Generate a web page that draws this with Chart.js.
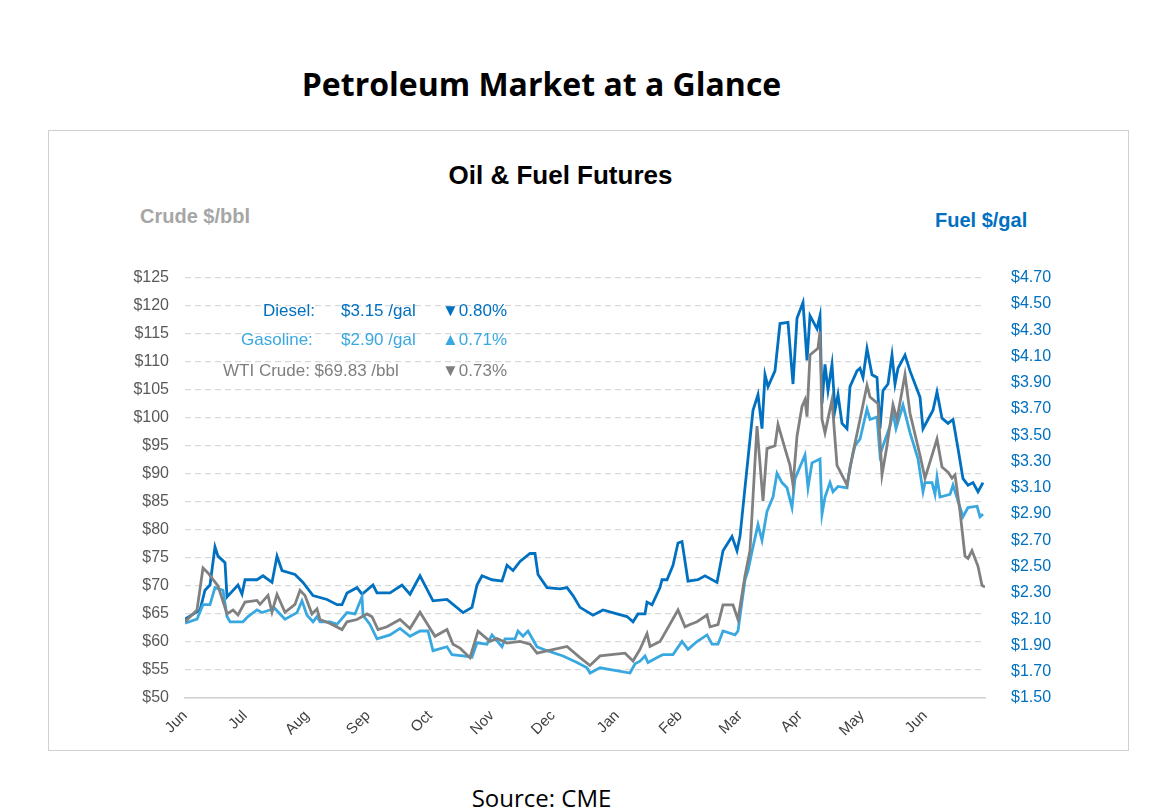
<!DOCTYPE html>
<html>
<head>
<meta charset="utf-8">
<script src="https://cdn.jsdelivr.net/npm/chart.js@4"></script>
<style>
  body { margin: 0; background: #fff; width: 1151px; height: 809px; position: relative; font-family: Arial, "Liberation Sans", sans-serif; }
  .abs { position: absolute; white-space: nowrap; }
  #title { left: 0; width: 1083px; top: 62px; text-align: center; font: bold 32px "Open Sans", Arial, sans-serif; color: #000; }
  #box { left: 48px; top: 130px; width: 1079px; height: 619px; border: 1px solid #d0d0d0; }
  #sub { left: 48px; width: 1025px; top: 160px; text-align: center; font: bold 26px Arial, sans-serif; }
  #crudeAxis { left: 140px; top: 205px; font: bold 20px Arial, sans-serif; color: #a6a6a6; }
  #fuelAxis { left: 935px; top: 209px; font: bold 20px Arial, sans-serif; color: #0070c0; }
  .lg { font: 17px Arial, sans-serif; }
  #source { left: 0; width: 1083px; top: 781px; text-align: center; font: 24px "Open Sans", Arial, sans-serif; color: #000; }
  #wrap { position: absolute; left: 50px; top: 250px; width: 1076px; height: 498px; }
</style>
</head>
<body>
<div class="abs" id="title">Petroleum Market at a Glance</div>
<div class="abs" id="box"></div>
<div class="abs" id="sub">Oil &amp; Fuel Futures</div>
<div class="abs" id="crudeAxis">Crude $/bbl</div>
<div class="abs" id="fuelAxis">Fuel $/gal</div>
<div id="wrap"><canvas id="chartCanvas"></canvas></div>
<div class="abs lg" style="left:263px;top:301px;color:#0070c0">Diesel:</div>
<div class="abs lg" style="left:341px;top:301px;color:#0070c0">$3.15 /gal</div>
<div class="abs lg" style="left:442px;top:301px;color:#0070c0">▼0.80%</div>
<div class="abs lg" style="left:241px;top:330px;color:#3aa8e0">Gasoline:</div>
<div class="abs lg" style="left:341px;top:330px;color:#3aa8e0">$2.90 /gal</div>
<div class="abs lg" style="left:442px;top:330px;color:#3aa8e0">▲0.71%</div>
<div class="abs lg" style="left:223px;top:361px;color:#7f7f7f">WTI Crude: $69.83 /bbl</div>
<div class="abs lg" style="left:442px;top:361px;color:#7f7f7f">▼0.73%</div>
<div class="abs" id="source">Source: CME</div>
<script>
// time position along the axis (month starts are at monthT)
const monthLabels = ['Jun', 'Jul', 'Aug', 'Sep', 'Oct', 'Nov', 'Dec', 'Jan', 'Feb', 'Mar', 'Apr', 'May', 'Jun'];
const monthT = [0, 60, 122, 183, 245, 307, 368, 432, 495, 555, 615, 677, 740];

const dieselT = [0,15,20,25,30,33,40,42,53,57,60,72,78,87,92,97,110,118,128,142,152,157,162,172,177,188,192,205,217,225,235,248,262,278,287,292,297,307,317,322,328,335,345,350,353,362,375,382,388,395,408,418,432,442,448,453,460,462,467,475,
  477,482,488,493,497,503,513,520,532,538,547,552,555,562,568,573,577,580,583,590,595,603,608,612,618,622,625,632,635,637,640,643,647,650,653,657,662,665,672,675,678,682,687,692,695,698,703,707,710,713,720,725,735,738,743,748,752,757,763,768,773,778,783,788,793,798];
const dieselGal = [2.10,2.17,2.32,2.36,2.65,2.58,2.53,2.27,2.36,2.29,2.40,2.40,2.43,2.38,2.58,2.47,2.44,2.38,2.28,2.25,2.21,2.21,2.30,2.34,2.29,2.36,2.30,2.30,2.36,2.29,2.43,2.24,2.25,2.15,2.19,2.36,2.43,2.40,2.39,2.51,2.47,2.54,2.60,2.60,2.44,2.34,2.33,2.34,2.28,2.19,2.13,2.17,2.14,2.12,2.08,2.14,2.14,2.23,2.21,2.34,
  2.40,2.40,2.51,2.68,2.69,2.39,2.40,2.43,2.38,2.62,2.73,2.62,2.73,3.25,3.69,3.81,3.55,3.96,3.87,3.99,4.35,4.36,3.89,4.39,4.51,4.07,4.41,4.31,4.41,3.74,4.04,3.84,4.04,3.69,3.81,3.59,3.55,3.87,3.99,4.01,3.94,4.16,3.96,3.94,3.55,3.84,3.89,4.11,3.89,4.01,4.11,3.99,3.79,3.55,3.62,3.69,3.83,3.63,3.59,3.62,3.40,3.17,3.12,3.14,3.07,3.14];

const gasT = [0,12,18,25,30,38,42,45,58,63,72,77,85,90,100,112,117,122,128,132,135,145,152,162,170,177,178,185,192,205,215,225,235,243,248,262,267,278,287,292,302,307,317,320,330,333,338,343,352,362,378,392,402,405,415,445,450,455,460,463,475,
  478,488,497,503,512,522,527,533,538,550,553,560,563,568,573,577,582,588,592,597,602,607,610,620,623,627,635,637,640,645,648,653,662,665,670,675,682,685,692,695,698,705,708,711,718,725,733,738,740,747,750,752,755,765,768,778,783,792,795,798];
const gasGal = [2.07,2.10,2.21,2.21,2.34,2.32,2.12,2.08,2.08,2.12,2.17,2.15,2.17,2.18,2.10,2.15,2.24,2.13,2.08,2.12,2.08,2.08,2.06,2.15,2.14,2.27,2.13,2.06,1.95,1.98,2.03,1.97,2.01,2.01,1.86,1.89,1.83,1.82,1.81,1.92,1.91,1.98,1.89,1.95,1.95,2.01,1.97,2.01,1.89,1.86,1.82,1.77,1.73,1.69,1.73,1.69,1.76,1.78,1.82,1.77,1.82,
  1.83,1.83,1.93,1.87,1.93,1.98,1.91,1.91,2.01,1.98,2.01,2.40,2.47,2.65,2.82,2.70,2.92,3.03,3.21,3.14,3.10,2.95,3.17,3.35,3.10,3.29,3.32,2.90,3.03,3.14,3.07,3.11,3.10,3.26,3.42,3.47,3.70,3.62,3.64,3.35,3.42,3.57,3.67,3.55,3.73,3.52,3.32,3.07,3.14,3.14,3.05,3.18,3.03,3.05,3.12,2.88,2.95,2.96,2.88,2.90];

const crudeT = [0,12,18,23,33,42,48,53,60,72,75,83,87,92,100,110,115,120,127,132,135,145,157,162,172,182,187,193,202,215,225,235,242,250,262,268,275,285,293,305,312,322,335,345,352,362,382,395,405,415,440,448,455,462,465,475,
  478,493,500,505,512,522,525,533,538,548,553,560,565,572,578,582,590,593,600,605,608,612,617,620,622,625,633,635,637,640,647,652,662,668,675,682,685,693,697,702,708,712,720,725,735,740,747,752,757,763,767,770,775,780,783,787,793,797,800];
const crudeBbl = [63.6,65.7,73.2,72.3,70.0,65.0,65.7,64.8,67.1,67.4,66.7,68.3,65.3,68.5,65.3,66.7,69.2,68.3,65.0,65.9,64.0,63.3,62.2,63.6,64.0,65.0,64.5,62.2,62.7,64.0,62.4,65.3,63.3,61.0,62.2,59.6,58.9,57.2,61.9,60.1,60.6,59.8,60.1,59.6,58.0,58.4,59.2,57.2,55.8,57.5,58.0,56.6,58.7,61.5,59.2,60.1,
  61.0,65.7,62.7,63.1,63.6,64.8,62.7,63.1,66.6,66.6,64.0,71.8,76.3,98.5,85.1,94.5,95.0,98.8,94.5,91.5,88.0,96.7,102.0,103.2,100.2,111.2,112.4,115.4,99.7,97.3,103.2,91.5,88.0,93.8,99.7,105.8,103.7,102.5,89.8,95.0,102.3,99.7,107.7,100.8,93.3,89.2,93.3,96.2,91.2,90.3,89.2,89.8,83.3,75.3,74.9,76.3,73.5,70.1,69.8];

function zip(ts, vs) {
    return ts.map((t, i) => ({ x: t, y: vs[i] }));
}

function lineSet(label, ts, vs, color, axis) {
    return {
        label: label,
        data: zip(ts, vs),
        borderColor: color,
        borderWidth: 2.8,
        pointRadius: 0,
        tension: 0,
        yAxisID: axis
    };
}

const ctx = document.getElementById('chartCanvas').getContext('2d');
new Chart(ctx, {
    type: 'line',
    data: {
        datasets: [
            lineSet('WTI Crude', crudeT, crudeBbl, '#808080', 'yL'),
            lineSet('Gasoline', gasT, gasGal, '#3aa8e0', 'yR'),
            lineSet('Diesel', dieselT, dieselGal, '#0070c0', 'yR')
        ]
    },
    options: {
        responsive: true,
        maintainAspectRatio: false,
        animation: false,
        layout: { padding: { top: 18, left: 0, right: 0, bottom: 0 } },
        plugins: { legend: { display: false }, tooltip: { enabled: false } },
        scales: {
            x: {
                type: 'linear',
                min: 0,
                max: 800,
                afterBuildTicks: function(axis) {
                    axis.ticks = monthT.map(v => ({ value: v }));
                },
                afterFit: function(axis) { axis.height = 50; },
                grid: { display: false, drawTicks: true, tickLength: 6, color: '#bfbfbf' },
                border: { color: '#d0d0d0', width: 1.5 },
                ticks: {
                    autoSkip: false,
                    maxRotation: 45,
                    minRotation: 45,
                    color: '#404040',
                    font: { family: 'Arial', size: 15 },
                    callback: function(value) {
                        const i = monthT.indexOf(value);
                        return i >= 0 ? monthLabels[i] : '';
                    }
                }
            },
            yL: {
                position: 'left',
                min: 50,
                max: 125,
                afterFit: function(axis) { axis.width = 135; },
                border: { display: false },
                grid: { color: '#d9d9d9', lineWidth: 1.2, drawTicks: false },
                border: { display: false, dash: [6, 4] },
                ticks: {
                    stepSize: 5,
                    padding: 16,
                    color: '#595959',
                    font: { family: 'Arial', size: 16 },
                    callback: v => '$' + v
                }
            },
            yR: {
                position: 'right',
                min: 1.5,
                max: 4.7,
                afterFit: function(axis) { axis.width = 141; },
                border: { display: false },
                grid: { display: false },
                ticks: {
                    stepSize: 0.2,
                    padding: 18,
                    color: '#0070c0',
                    font: { family: 'Arial', size: 16 },
                    callback: v => '$' + v.toFixed(2)
                }
            }
        }
    }
});
</script>
</body>
</html>
